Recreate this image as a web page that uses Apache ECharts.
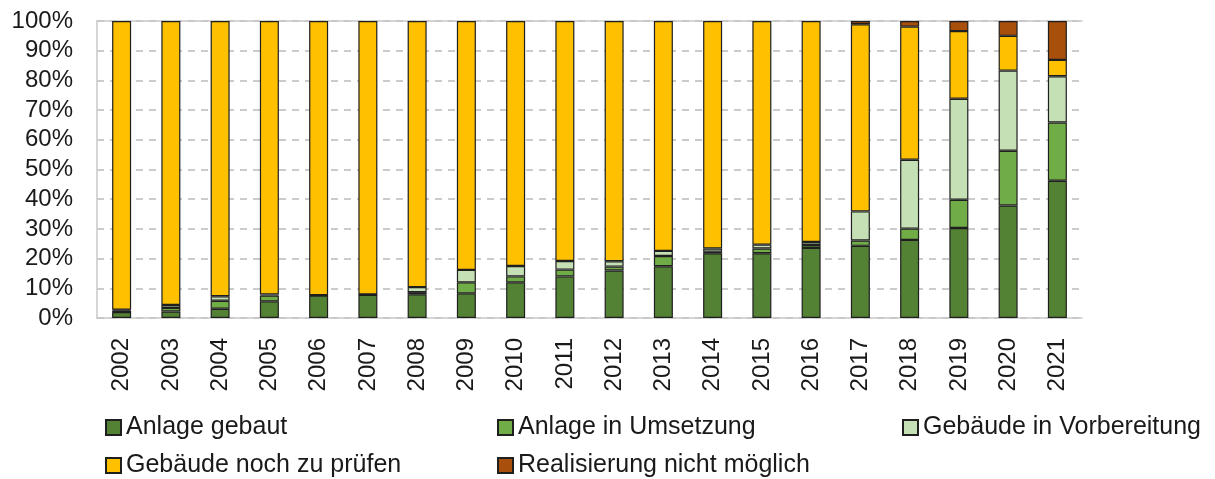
<!DOCTYPE html>
<html>
<head>
<meta charset="utf-8">
<script src="https://cdn.jsdelivr.net/npm/echarts@6/dist/echarts.min.js"></script>
<style>
  html, body { margin: 0; padding: 0; background: #fff; }
  #chart { width: 1215px; height: 479px; }
</style>
</head>
<body>
<div id="chart"></div>
<script>
// Jahre
const years = ['2002', '2003', '2004', '2005', '2006', '2007', '2008', '2009', '2010', '2011',
  '2012', '2013', '2014', '2015', '2016', '2017', '2018', '2019', '2020', '2021'];

const seriesNames = ['Anlage gebaut', 'Anlage in Umsetzung', 'Gebäude in Vorbereitung',
  'Gebäude noch zu prüfen', 'Realisierung nicht möglich'];

// Anteile in %
const gebaut = [2.0, 2.2, 3.1, 5.6, 7.6, 7.8, 8.0, 8.3, 12.0, 14.0,
  16.0, 17.4, 21.8, 21.8, 23.6, 24.3, 26.3, 30.3, 37.9, 46.2];
const umsetzung = [0.5, 1.2, 2.7, 2.0, 0.1, 0.1, 0.7, 3.7, 2.0, 2.3,
  1.3, 3.5, 0.5, 1.6, 1.0, 1.8, 3.8, 9.5, 18.4, 19.6];
const vorbereitung = [0.3, 1.0, 1.5, 0.3, '-', '-', 1.7, 4.2, 3.5, 2.9,
  1.8, 1.7, 1.1, 1.3, 1.0, 9.8, 23.2, 34.0, 27.0, 15.6];
const zuPruefen = [97.2, 95.6, 92.7, 92.1, 92.3, 92.1, 89.6, 83.8, 82.5, 80.8,
  80.9, 77.4, 76.6, 75.3, 74.4, 63.0, 44.8, 22.8, 11.7, 5.5];
const nichtMoeglich = ['-', '-', '-', '-', '-', '-', '-', '-', '-', '-',
  '-', '-', '-', '-', '-', 1.1, 1.9, 3.4, 5.0, 13.1];

const yTicks = [0, 10, 20, 30, 40, 50, 60, 70, 80, 90, 100];

const colors = ['#548235', '#70ad47', '#c5e0b4', '#ffc000', '#a84f0c'];
const values = [gebaut, umsetzung, vorbereitung, zuPruefen, nichtMoeglich];

const font = "'Liberation Sans', Arial, sans-serif";
const textColor = '#1a1a1a';

const chart = echarts.init(document.getElementById('chart'));

const legendBase = {
  orient: 'vertical',
  top: 415,
  padding: 0,
  itemWidth: 15,
  itemHeight: 15,
  itemGap: 13,
  icon: 'rect',
  selectedMode: false,
  textStyle: { fontFamily: font, fontSize: 25, lineHeight: 25, color: textColor }
};

const option = {
  animation: false,
  color: colors,
  grid: { left: 97, right: 133, top: 21, bottom: 161 },
  legend: [
    Object.assign({}, legendBase, { left: 105, data: [seriesNames[0], seriesNames[3]] }),
    Object.assign({}, legendBase, { left: 497, data: [seriesNames[1], seriesNames[4]] }),
    Object.assign({}, legendBase, { left: 902, data: [seriesNames[2]] })
  ],
  xAxis: [
    {
      type: 'category',
      data: years,
      axisLine: { lineStyle: { color: '#c8c8c8', width: 1.5 } },
      axisTick: { show: false },
      axisLabel: {
        rotate: 90,
        margin: 20,
        fontFamily: font,
        fontSize: 24,
        color: textColor
      }
    },
    {
      // obere Rahmenlinie
      type: 'category',
      data: years,
      position: 'top',
      axisLine: { show: true, lineStyle: { color: '#c8c8c8', width: 1.5 } },
      axisTick: { show: false },
      axisLabel: { show: false }
    }
  ],
  yAxis: {
    type: 'value',
    min: yTicks[0],
    max: yTicks[yTicks.length - 1],
    interval: 10,
    axisLine: { show: true, lineStyle: { color: '#c8c8c8', width: 1.5 } },
    axisTick: { show: false },
    axisLabel: {
      margin: 24,
      formatter: '{value}%',
      fontFamily: font,
      fontSize: 24,
      color: textColor
    },
    splitLine: {
      lineStyle: { color: '#bababa', type: [7, 6], width: 1.5 }
    }
  },
  series: seriesNames.map(function (name, i) {
    return {
      name: name,
      type: 'bar',
      stack: 'total',
      barWidth: 19,
      data: values[i],
      itemStyle: {
        color: colors[i],
        borderColor: '#1f1f1f',
        borderWidth: 1.2
      }
    };
  })
};

chart.setOption(option);
</script>
</body>
</html>
